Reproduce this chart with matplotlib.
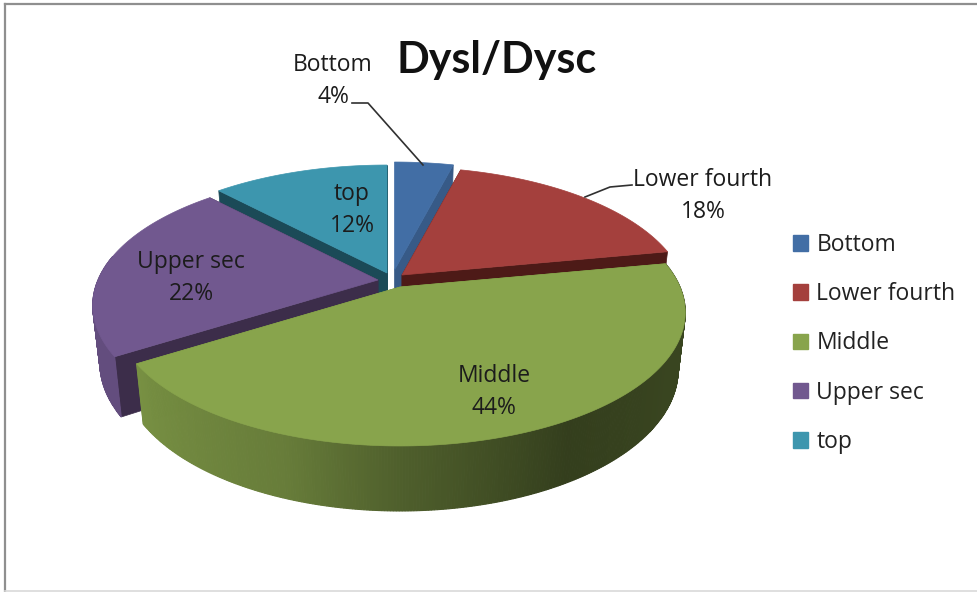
import numpy as np
import matplotlib
matplotlib.use("Agg")
import matplotlib.pyplot as plt
from matplotlib.patches import Polygon, Patch

### Data
categories = ["Bottom", "Lower fourth", "Middle", "Upper sec", "top"]
percents = [4, 18, 44, 22, 12]

### Style
top_colors = ["#426ea5", "#a4403d", "#88a44c", "#71588f", "#3d96ae"]
cut_colors = ["#375a87", "#4d1a17", "#6f8a3c", "#3c2d4a", "#1b4a57"]
# tip of each exploded slice, in pixels of the picture
slice_tips = [(394.5, 270), (402, 275), (400, 287), (378, 280), (387, 273)]
draw_order = [4, 0, 1, 3, 2]  # back to front

# perspective of the disc
SCALE_X, SCALE_Y, PERSP = 280, 128.6, 0.191
DEPTH, BOTTOM_SHRINK = 55.8, 0.975

plt.rcParams["font.family"] = ["Open Sans", "DejaVu Sans"]
text_color = "#1c1c1c"


def project(theta, tip, bottom=False):
    """theta in degrees clockwise from the top, returns picture x, y"""
    t = np.radians(theta)
    w = 1 + PERSP * np.cos(t)
    sx = SCALE_X * np.sin(t) / w
    sy = -SCALE_Y * np.cos(t) / w
    if bottom:
        return tip[0] + BOTTOM_SHRINK * sx, tip[1] + BOTTOM_SHRINK * sy + DEPTH / w
    return tip[0] + sx, tip[1] + sy


def side_shade(theta):
    return np.interp(theta, [60, 120, 150, 180, 200, 238, 320],
                     [0.42, 0.42, 0.38, 0.58, 0.76, 0.88, 0.88])


fig = plt.figure(figsize=(9.77, 5.92), dpi=100)
ax = fig.add_axes([0, 0, 1, 1])
ax.set_xlim(0, 977)
ax.set_ylim(592, 0)
ax.axis("off")

fractions = np.array(percents) / sum(percents)
edges = np.concatenate([[0], np.cumsum(fractions)]) * 360

for i in draw_order:
    tip = slice_tips[i]
    start, end = edges[i], edges[i + 1]
    thetas = np.linspace(start, end, int(end - start) * 2 + 2)
    base = np.array(matplotlib.colors.to_rgb(top_colors[i]))

    # the two flat cut faces
    for th in (start, end):
        x0, y0 = project(th, tip)
        x1, y1 = project(th, tip, bottom=True)
        face = [tip, (x0, y0), (x1, y1), (tip[0], tip[1] + DEPTH)]
        ax.add_patch(Polygon(face, closed=True, fc=cut_colors[i], ec=cut_colors[i], lw=0.5))

    # rounded outer wall, only the part turned to the viewer
    for a, b in zip(thetas[:-1], thetas[1:]):
        if np.cos(np.radians((a + b) / 2)) > 0.19:
            continue
        quad = [project(a, tip), project(b, tip),
                project(b, tip, bottom=True), project(a, tip, bottom=True)]
        shade = tuple(base * side_shade((a + b) / 2))
        ax.add_patch(Polygon(quad, closed=True, fc=shade, ec=shade, lw=0.8))

    # top surface
    xs, ys = project(thetas, tip)
    outline = np.column_stack([np.r_[tip[0], xs], np.r_[tip[1], ys]])
    ax.add_patch(Polygon(outline, closed=True, fc=top_colors[i], ec=top_colors[i], lw=0.5))

# labels
label_pos = [(333, 81), (703, 196), (494, 392), (191, 278), (352, 210)]
for name, pct, (lx, ly) in zip(categories, percents, label_pos):
    ax.text(lx, ly, f"{name}\n{pct}%", ha="center", va="center", fontsize=16.5,
            color=text_color, linespacing=1.48)

# leader lines
ax.plot([352, 368, 423], [103, 103, 165], color="#303030", lw=1.2)
ax.plot([632, 610, 585], [185, 187, 197], color="#303030", lw=1.2)

ax.text(497, 60, "Dysl/Dysc", ha="center", va="center", fontsize=31,
        fontweight="bold", color="#111111", family=["Lato", "DejaVu Sans"])

# legend
handles = [Patch(fc=c, ec=c) for c in top_colors]
leg = ax.legend(handles, categories, loc="upper left", frameon=False, fontsize=16.5,
                labelcolor="#222222", handlelength=0.66, handleheight=0.66,
                handletextpad=0.36, labelspacing=1.10, borderpad=0, borderaxespad=0)
leg.set_bbox_to_anchor((793, 233), transform=ax.transData)

# chart frame
ax.plot([5, 5], [592, 4], color="#8f8f8f", lw=1.6)
ax.plot([5, 977], [4, 4], color="#8f8f8f", lw=1.6)
ax.plot([5, 977], [591, 591], color="#d9d9d9", lw=1.2)

fig.savefig("out.png", dpi=100)
